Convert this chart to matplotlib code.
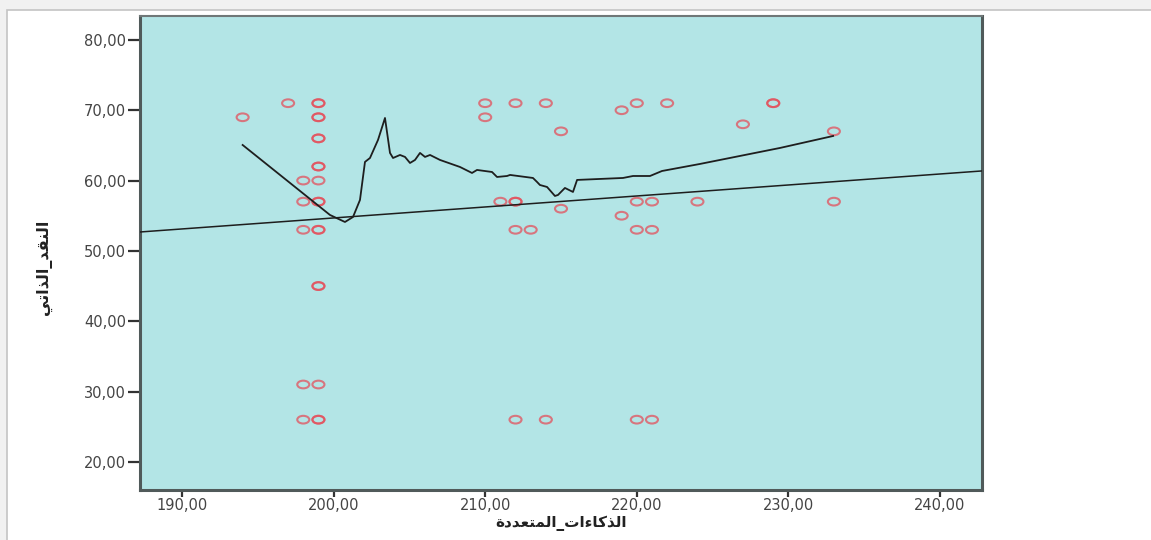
import matplotlib.pyplot as plt
import numpy as np
from matplotlib.path import Path
from matplotlib.patches import Rectangle
from matplotlib.ticker import FuncFormatter

# نقاط الانتشار (الذكاءات المتعددة ، النقد الذاتي)
x_vals = [194, 197, 199, 199, 199, 199, 199, 199, 199, 199, 198, 199,
          198, 199, 199, 198, 199, 199, 199, 199, 198, 199, 198, 199, 199,
          210, 210, 212, 214, 215, 211, 212, 212, 212, 213, 215, 212, 214,
          219, 220, 222, 219, 220, 221, 220, 221, 220, 221,
          224, 227, 229, 229, 233, 233]
y_vals = [69, 71, 71, 71, 69, 69, 66, 66, 62, 62, 60, 60,
          57, 57, 57, 53, 53, 53, 45, 45, 31, 31, 26, 26, 26,
          71, 69, 71, 71, 67, 57, 57, 57, 53, 53, 56, 26, 26,
          70, 71, 71, 55, 57, 57, 53, 53, 26, 26,
          57, 68, 71, 71, 67, 57]

# منحنى التمهيد (loess) مقروء من الصورة
loess_x = [194.0, 199.76, 200.75, 201.28, 201.74, 202.07, 202.40, 202.93,
           203.39, 203.72, 203.92, 204.38, 204.71, 205.04, 205.37, 205.70,
           206.03, 206.36, 207.02, 208.34, 209.13, 209.46, 210.45, 210.78,
           211.44, 211.64, 213.15, 213.42, 213.61, 214.08, 214.60, 214.80,
           215.26, 215.79, 216.06, 217.57, 219.09, 219.75, 220.87, 221.66,
           224.16, 229.45, 232.95]
loess_y = [65.06, 55.11, 54.11, 54.82, 57.24, 62.65, 63.21, 65.78,
           68.9, 63.93, 63.21, 63.64, 63.36, 62.50, 62.93, 63.93,
           63.36, 63.64, 62.93, 61.93, 61.08, 61.51, 61.22, 60.51,
           60.65, 60.80, 60.37, 59.80, 59.37, 59.09, 57.81, 57.95,
           58.95, 58.38, 60.09, 60.23, 60.37, 60.65, 60.65, 61.36,
           62.36, 64.64, 66.34]

# خط المطابقة الخطي
fit_x0, fit_y0, fit_slope = 190.0, 53.12, 0.1563

x_label = 'الذكاءات_المتعددة'
y_label = 'النقد_الذاتي'

FORMS = {
    'ء': ('\uFE80', None, None, None),
    'ا': ('\uFE8D', '\uFE8E', None, None),
    'ة': ('\uFE93', '\uFE94', None, None),
    'ت': ('\uFE95', '\uFE96', '\uFE97', '\uFE98'),
    'د': ('\uFEA9', '\uFEAA', None, None),
    'ذ': ('\uFEAB', '\uFEAC', None, None),
    'ع': ('\uFEC9', '\uFECA', '\uFECB', '\uFECC'),
    'ق': ('\uFED5', '\uFED6', '\uFED7', '\uFED8'),
    'ك': ('\uFED9', '\uFEDA', '\uFEDB', '\uFEDC'),
    'ل': ('\uFEDD', '\uFEDE', '\uFEDF', '\uFEE0'),
    'م': ('\uFEE1', '\uFEE2', '\uFEE3', '\uFEE4'),
    'ن': ('\uFEE5', '\uFEE6', '\uFEE7', '\uFEE8'),
    'ي': ('\uFEF1', '\uFEF2', '\uFEF3', '\uFEF4'),
}


def shape(text):
    # تشكيل بسيط للحروف العربية ثم عكس الترتيب للعرض
    out = []
    for i, ch in enumerate(text):
        f = FORMS.get(ch)
        if f is None:
            out.append(ch)
            continue
        prev = text[i - 1] if i > 0 else ''
        nxt = text[i + 1] if i + 1 < len(text) else ''
        jp = prev in FORMS and FORMS[prev][2] is not None
        jn = f[2] is not None and nxt in FORMS and FORMS[nxt][1] is not None
        if jp and jn:
            out.append(f[3])
        elif jp:
            out.append(f[1])
        elif jn:
            out.append(f[2])
        else:
            out.append(f[0])
    return ''.join(reversed(out))


plt.rcParams['font.family'] = ['DejaVu Sans']

fig = plt.figure(figsize=(11.51, 5.4), dpi=100, facecolor='#f1f1f1')
fig.patches.append(Rectangle((7 / 1151, -0.1), 1.2, 1.1 - 10 / 540,
                             transform=fig.transFigure, facecolor='white',
                             edgecolor='#c4c4c4', linewidth=1.2, zorder=-5))
ax = fig.add_axes([140 / 1151, 50 / 540, 842 / 1151, 474 / 540], zorder=2)
ax.set_facecolor('#b3e5e6')

ell = Path.unit_circle()
ell = Path(ell.vertices * np.array([1.0, 0.64]), ell.codes)
ax.scatter(x_vals, y_vals, marker=ell, s=75, facecolors='none',
           edgecolors='#e4505c', linewidths=1.5, alpha=0.75, zorder=3)

ax.plot(loess_x, loess_y, color='#1e1e1e', linewidth=1.3, zorder=4)
ax.axline((fit_x0, fit_y0), slope=fit_slope, color='#1e1e1e',
          linewidth=1.1, zorder=4)

ax.set_xlim(187.23, 242.77)
ax.set_ylim(16.0, 83.4)
ax.set_xticks(np.arange(190, 241, 10))
ax.set_yticks(np.arange(20, 81, 10))
fmt = FuncFormatter(lambda v, p: f'{v:.2f}'.replace('.', ','))
ax.xaxis.set_major_formatter(fmt)
ax.yaxis.set_major_formatter(fmt)
ax.tick_params(direction='out', width=1.6, color='#333333',
               labelsize=10.5, labelcolor='#444444')
ax.tick_params(axis='y', length=9, pad=1)
ax.tick_params(axis='x', length=5, pad=0.5)

for side in ['left', 'bottom', 'right']:
    ax.spines[side].set_color('#505a5a')
    ax.spines[side].set_linewidth(2.2)
ax.spines['top'].set_color('#707878')
ax.spines['top'].set_linewidth(1.5)

ax.set_xlabel(shape(x_label), fontweight='bold', fontsize=11,
              color='#222222')
ax.set_ylabel(shape(y_label), fontweight='bold', fontsize=11.5,
              color='#222222')
ax.xaxis.set_label_coords(0.5, -0.054)
ax.yaxis.set_label_coords(-0.105, 0.47)

fig.savefig('out.png', dpi=100, facecolor=fig.get_facecolor())
